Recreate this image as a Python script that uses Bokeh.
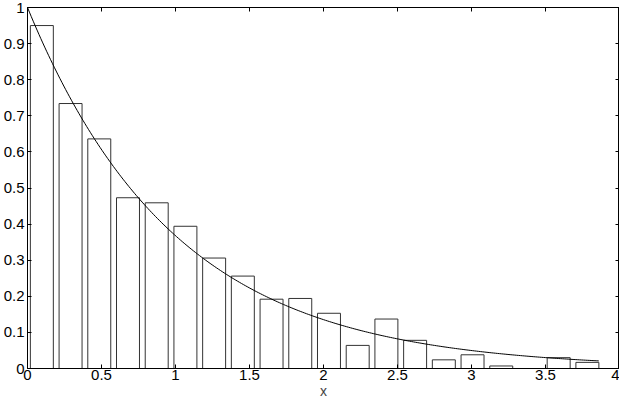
import numpy as np
from bokeh.plotting import figure
from bokeh.models import FixedTicker, LinearAxis, Range1d
from bokeh.embed import file_html
from bokeh.resources import INLINE

# histogram (normalised) of samples, 20 bins
bin_width = 0.194
bin_index = list(range(20))
heights = [0.950, 0.734, 0.636, 0.473, 0.459, 0.394, 0.306, 0.256, 0.192, 0.194,
           0.153, 0.064, 0.137, 0.078, 0.024, 0.038, 0.007, 0.0, 0.030, 0.017]
bar_centers = [(i + 0.5) * bin_width for i in bin_index]

# theoretical density exp(-x)
curve_x = np.linspace(0.0, 3.86, 300)
curve_y = np.exp(-curve_x)

x_ticks = [0, 0.5, 1, 1.5, 2, 2.5, 3, 3.5, 4]
x_labels = ["0", "0.5", "1", "1.5", "2", "2.5", "3", "3.5", "4"]
y_ticks = [0, 0.1, 0.2, 0.3, 0.4, 0.5, 0.6, 0.7, 0.8, 0.9, 1]
y_labels = ["0", "0.1", "0.2", "0.3", "0.4", "0.5", "0.6", "0.7", "0.8", "0.9", "1"]

FONT = "Liberation Sans"
FS = "15px"

p = figure(width=619, height=401, output_backend="svg", toolbar_location=None,
           x_range=Range1d(0, 4), y_range=Range1d(0, 1),
           min_border_left=0, min_border_right=0, min_border_top=7, min_border_bottom=0)
p.grid.visible = False
p.outline_line_color = "black"
p.background_fill_color = "white"
p.border_fill_color = "white"

p.vbar(x=bar_centers, width=0.8 * bin_width, top=heights, bottom=0,
       fill_color="white", line_color="#333333", line_width=1)
p.line(curve_x, curve_y, line_color="black", line_width=1)

def style(ax, ticks, labels=None, show_labels=True):
    ax.ticker = FixedTicker(ticks=ticks)
    ax.major_tick_in = 4
    ax.major_tick_out = 0
    ax.minor_tick_line_color = None
    ax.axis_line_color = "black"
    ax.major_tick_line_color = "black"
    ax.major_label_text_font = FONT
    ax.major_label_text_font_size = FS
    ax.major_label_text_color = "black"
    if labels is not None:
        ax.major_label_overrides = {t: l for t, l in zip(ticks, labels)}
    if not show_labels:
        ax.major_label_text_font_size = "0px"
        ax.major_label_text_color = None
        ax.major_label_standoff = 0

xa = p.xaxis[0]
style(xa, x_ticks, x_labels)
xa.major_label_standoff = 1
xa.axis_label = "x"
xa.axis_label_text_font = FONT
xa.axis_label_text_font_size = "14px"
xa.axis_label_text_font_style = "normal"
xa.axis_label_standoff = 0

ya = p.yaxis[0]
style(ya, y_ticks, y_labels)
ya.major_label_standoff = 3

top = LinearAxis()
style(top, x_ticks, show_labels=False)
p.add_layout(top, "above")
right = LinearAxis()
style(right, y_ticks, show_labels=False)
p.add_layout(right, "right")

open("out.html", "w").write(file_html(p, INLINE))
